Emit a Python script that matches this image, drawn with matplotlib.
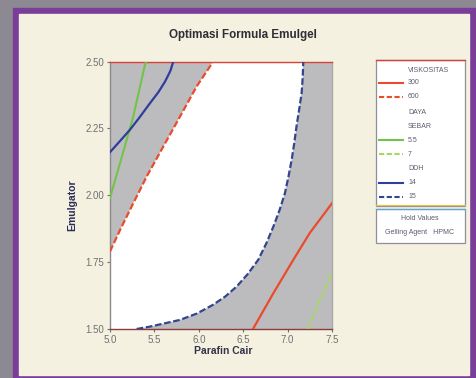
import matplotlib
matplotlib.use("Agg")
import matplotlib.pyplot as plt
from matplotlib.patches import Rectangle

plt.rcParams["font.family"] = ["Liberation Sans", "DejaVu Sans"]

# contour lines (Parafin Cair, Emulgator)
visk300_x = [6.61, 6.84, 7.065, 7.25, 7.50]
visk300_y = [1.50, 1.634, 1.759, 1.859, 1.97]
visk600_x = [5.00, 5.12, 5.244, 5.413, 5.60, 5.788, 5.976, 6.163]
visk600_y = [1.79, 1.875, 1.958, 2.07, 2.182, 2.294, 2.407, 2.50]
sebar55_x = [5.00, 5.13, 5.262, 5.394, 5.41]
sebar55_y = [1.99, 2.14, 2.294, 2.488, 2.50]
sebar7_x = [7.23, 7.35, 7.50]
sebar7_y = [1.50, 1.597, 1.71]
ddh14_x = [5.00, 5.10, 5.225, 5.33, 5.45, 5.544, 5.62, 5.68, 5.713]
ddh14_y = [2.161, 2.198, 2.245, 2.29, 2.344, 2.385, 2.425, 2.465, 2.50]
ddh15_x = [5.30, 5.45, 5.60, 5.788, 5.98, 6.163, 6.30, 6.427, 6.55, 6.67,
           6.76, 6.84, 6.91, 6.97, 7.01, 7.046, 7.075, 7.10, 7.13, 7.158, 7.17, 7.177]
ddh15_y = [1.50, 1.509, 1.52, 1.534, 1.558, 1.591, 1.622, 1.659, 1.705, 1.759,
           1.82, 1.883, 1.945, 2.008, 2.07, 2.133, 2.195, 2.257, 2.32, 2.382, 2.44, 2.50]

x_ticks = [5.0, 5.5, 6.0, 6.5, 7.0, 7.5]
y_ticks = [1.50, 1.75, 2.00, 2.25, 2.50]

RED = "#ea4b2c"
GREEN = "#72c447"
GREEN_L = "#a6d860"
BLUE = "#2f3d9c"
BLUE_D = "#34458f"
GRAY = "#bcbcbe"

W, H = 477, 378
fig = plt.figure(figsize=(W / 100, H / 100), dpi=100)


def box(x0, y0, x1, y1):
    # pixel box (top-left origin) -> figure fractions
    return (x0 / W, 1 - y1 / H), (x1 - x0) / W, (y1 - y0) / H


# photo background: gray backdrop, purple frame, cream panel
fig.patch.set_facecolor("#8d8992")
for (x0, y0, x1, y1, c) in [(13, 8, 477, 378, "#7a3d98"), (19, 14, 469, 375, "#f4f1e0")]:
    xy, w, h = box(x0, y0, x1, y1)
    fig.add_artist(Rectangle(xy, w, h, transform=fig.transFigure, color=c, zorder=-5))

xy, w, h = box(110, 61.5, 332, 329)
ax = fig.add_axes([xy[0], xy[1], w, h])
ax.set_facecolor(GRAY)

# white feasible region between viskositas 600 and DDH 15
reg_x = [5.0] + visk600_x + ddh15_x[::-1] + [5.0]
reg_y = [1.5] + visk600_y + ddh15_y[::-1] + [1.5]
ax.fill(reg_x, reg_y, color="white", lw=0, zorder=1)

ax.plot(visk300_x, visk300_y, color=RED, lw=1.6, zorder=3)
ax.plot(visk600_x, visk600_y, color=RED, lw=1.6, ls=(0, (3, 1.2)), zorder=3)
ax.plot(sebar55_x, sebar55_y, color=GREEN, lw=1.5, zorder=3)
ax.plot(sebar7_x, sebar7_y, color=GREEN_L, lw=1.5, ls=(0, (3, 1.2)), zorder=3)
ax.plot(ddh14_x, ddh14_y, color=BLUE, lw=1.6, zorder=3)
ax.plot(ddh15_x, ddh15_y, color=BLUE_D, lw=1.6, ls=(0, (3, 1.2)), zorder=3)

ax.set_xlim(5.0, 7.5)
ax.set_ylim(1.5, 2.5)
ax.set_xticks(x_ticks)
ax.set_xticklabels([f"{v:.1f}" for v in x_ticks])
ax.set_yticks(y_ticks)
ax.set_yticklabels([f"{v:.2f}" for v in y_ticks])
ax.tick_params(labelsize=7, colors="#707070", length=2.5, width=0.8, pad=1.5)
for s in ax.spines.values():
    s.set_linewidth(1.0)
ax.spines["top"].set_color("#d8413a")
ax.spines["bottom"].set_color("#8b3a40")
ax.spines["left"].set_color("#8a8a8a")
ax.spines["right"].set_color("#a9a9a9")

fig.text(243 / W, 1 - 35 / H, "Optimasi Formula Emulgel", ha="center", va="center",
         fontsize=8.4, fontweight="bold", color="#2e2e36")
fig.text(223 / W, 1 - 351 / H, "Parafin Cair", ha="center", va="center",
         fontsize=7.5, fontweight="bold", color="#33334a")
fig.text(72 / W, 1 - 205 / H, "Emulgator", ha="center", va="center", rotation=90,
         fontsize=7.5, fontweight="bold", color="#2b2b5c")

# legend boxes drawn in pixel space
lg = fig.add_axes([0, 0, 1, 1], zorder=5)
lg.set_xlim(0, W)
lg.set_ylim(H, 0)
lg.axis("off")
lg.add_patch(Rectangle((376.5, 60), 88.5, 146, facecolor="white", edgecolor="#8f8f9a", lw=0.9))
lg.plot([376.5, 465], [60, 60], color="#d8413a", lw=1.0)
lg.plot([376.5, 465], [205, 205], color="#e6c34a", lw=0.9)
lg.add_patch(Rectangle((376.5, 209), 88.5, 34, facecolor="white", edgecolor="#8f8f9a", lw=0.9))
lg.plot([376.5, 465], [209, 209], color="#5aa8d8", lw=0.9)

entries = [
    ("VISKOSITAS", None, None, 70),
    ("300", RED, "-", 83),
    ("600", RED, "--", 97),
    ("DAYA", None, None, 112),
    ("SEBAR", None, None, 126),
    ("5.5", GREEN, "-", 140),
    ("7", GREEN_L, "--", 154),
    ("DDH", None, None, 168),
    ("14", BLUE, "-", 183),
    ("15", BLUE_D, "--", 197),
]
for label, col, style, yy in entries:
    if col is not None:
        ls = "-" if style == "-" else (0, (2.5, 1.2))
        lg.plot([379, 403], [yy, yy], color=col, lw=1.5, ls=ls)
    lg.text(408, yy, label, fontsize=5, color="#5b5b6e", va="center", ha="left")
lg.text(420, 219, "Hold Values", fontsize=5, color="#5b5b6e", va="center", ha="center")
lg.text(420, 233, "Gelling Agent   HPMC", fontsize=5, color="#5b5b6e", va="center", ha="center")

fig.savefig("out.png", dpi=100, facecolor=fig.get_facecolor())
